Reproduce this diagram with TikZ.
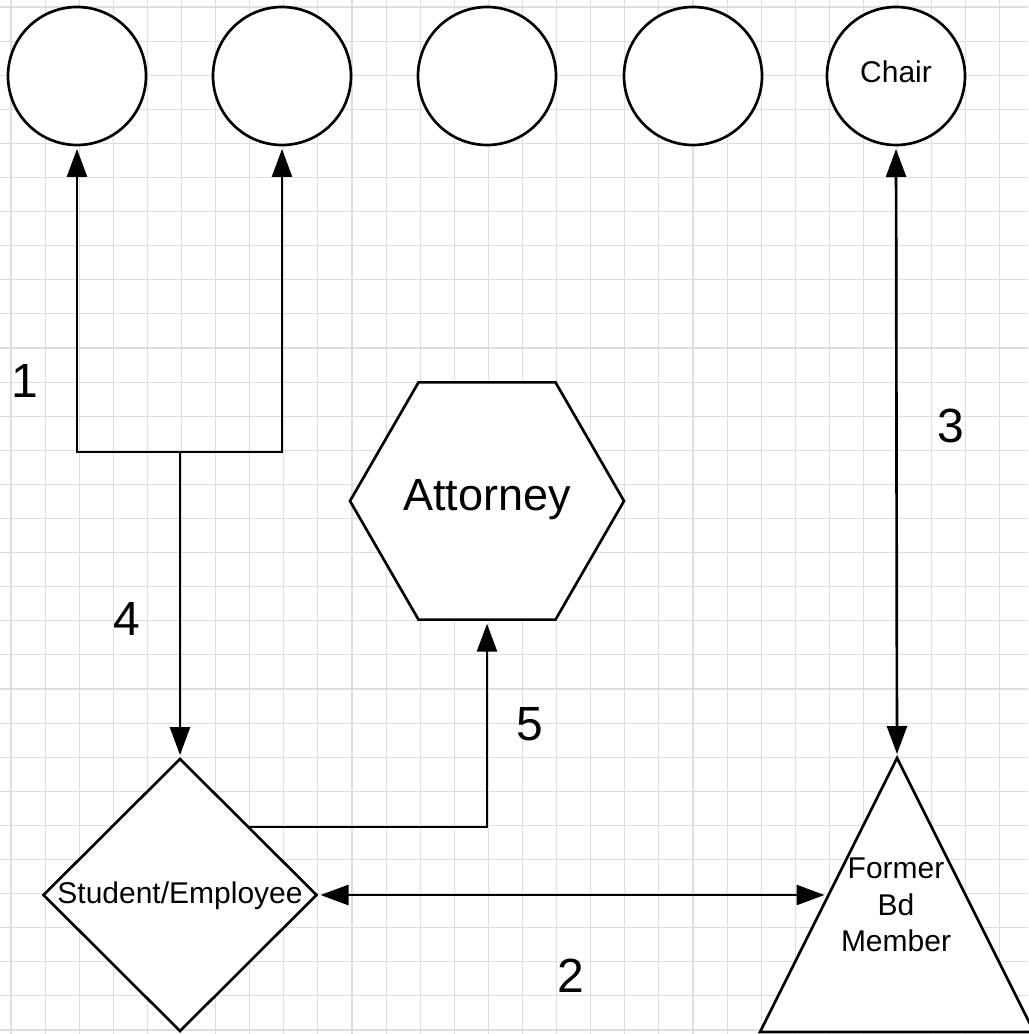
\documentclass[tikz,border=0pt]{standalone}
\usepackage{fontspec}
\setmainfont{Liberation Sans}
\usetikzlibrary{shapes.geometric,arrows.meta,calc}
\begin{document}
\begin{tikzpicture}[x=0.75pt,y=-0.75pt,
  gridline/.style={draw=black!13,line width=0.8pt},
  shp/.style={draw=black,line width=2pt,fill=white,inner sep=0pt,outer sep=0pt},
  tipA/.tip={Triangle[length=21pt,width=15pt]},
  conn/.style={draw=black,line width=2pt,-tipA,shorten >=3pt},
  dconn/.style={draw=black,line width=2pt,tipA-tipA,shorten >=3pt,shorten <=3pt},
  num/.style={font=\fontsize{36}{43}\selectfont,anchor=base,inner sep=0pt},
  lbl/.style={font=\fontsize{22.5}{27.4}\selectfont,inner sep=0pt}]
\useasboundingbox (0,0) rectangle (1028,1034);
\fill[white] (0,0) rectangle (1028,1034);
% grid
\foreach \i in {0,...,29} \draw[gridline] ({11+34.1*\i},0) -- ({11+34.1*\i},1034);
\foreach \j in {0,...,30} \draw[gridline] (0,{7+34.1*\j}) -- (1028,{7+34.1*\j});
% circles
\node[shp,circle,minimum size=103.5pt] (c1) at (77,76) {};
\node[shp,circle,minimum size=103.5pt] (c2) at (282,76) {};
\node[shp,circle,minimum size=103.5pt] (c3) at (487,76) {};
\node[shp,circle,minimum size=103.5pt] (c4) at (693,76) {};
\node[shp,circle,minimum size=103.5pt] (chair) at (896,76) {};
\node[lbl,anchor=base] (chairtxt) at (896,83) {Chair};
% diamond
\node[shp,diamond,minimum width=204.75pt,minimum height=204pt] (se) at (180,895) {};
\node[lbl,anchor=base] (setxt) at (180,903) {Student/Employee};
% hexagon
\node[shp,regular polygon,regular polygon sides=6,minimum size=205.5pt] (att) at (487,501) {};
\node[font=\fontsize{33.75}{40}\selectfont,anchor=base,inner sep=0pt] (atttxt) at (487,510) {Attorney};
% triangle
\coordinate (fbA) at (897,758);
\coordinate (fbL) at (760,1032);
\coordinate (fbR) at (1034,1032);
\draw[shp] (fbA) -- (fbL) -- (fbR) -- cycle;
\node[lbl,align=center,anchor=north] (fb) at (896,858) {Former\\Bd\\Member};
% connectors
\coordinate (j1) at (180,452);
\draw[conn] (j1) -| (c1.south);
\draw[conn] (j1) -| (c2.south);
\draw[conn] (j1) -- (se.north);
\draw[conn] (se.north east) -| (att.south);
\coordinate (fbmid) at ($(fbA)!0.5!(fbL)$);
\draw[dconn] (se.east) -- (fbmid);
\draw[dconn] (chair.south) -- (fbA);
% labels
\node[num] (l1) at (25,397) {1};
\node[num] (l3) at (951,442) {3};
\node[num] (l4) at (127,635) {4};
\node[num] (l5) at (530,740) {5};
\node[num] (l2) at (571,992) {2};
\end{tikzpicture}
\end{document}
